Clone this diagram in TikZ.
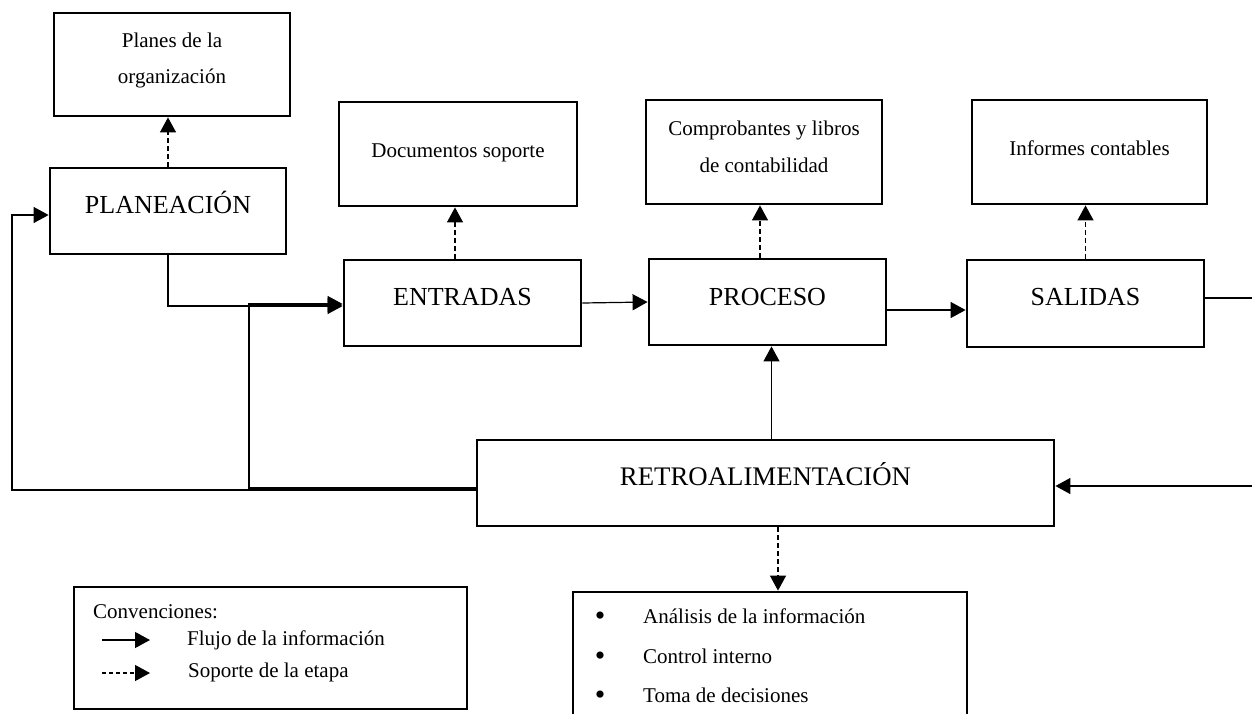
\documentclass[tikz,border=0pt]{standalone}
\usepackage{fontspec}
\setmainfont{Liberation Serif}
\usetikzlibrary{arrows.meta}
\begin{document}
\begin{tikzpicture}[x=1pt,y=-1pt,
  box/.style={draw, line width=2.8pt, inner sep=0pt},
  small/.style={inner sep=0pt, font=\fontsize{21}{25}\selectfont},
  big/.style={inner sep=0pt, font=\fontsize{26}{30}\selectfont},
  bulletmark/.style={inner sep=0pt, font=\fontsize{30}{30}\selectfont},
  flow/.style={line width=1.2pt, -{Triangle[length=15pt,width=16pt]}},
  sup/.style={line width=1.2pt, dash pattern=on 5pt off 3pt, -{Triangle[length=15pt,width=16pt]}},
]
\clip (0,0) rectangle (1252,713);
\useasboundingbox (0,0) rectangle (1252,713);
\fill[white] (0,0) rectangle (1252,713);

% boxes
\node[box, minimum width=236pt, minimum height=103pt] (planes) at (172,64.5) {};
\node[box, minimum width=236pt, minimum height=86pt] (plan) at (168,211) {};
\node[box, minimum width=238pt, minimum height=104pt] (docs) at (458,154) {};
\node[box, minimum width=236pt, minimum height=104pt] (comp) at (764,152) {};
\node[box, minimum width=235pt, minimum height=104pt] (inf) at (1089.5,152) {};
\node[box, minimum width=237pt, minimum height=86pt] (ent) at (462.5,303) {};
\node[box, minimum width=237pt, minimum height=86pt] (proc) at (767.5,302) {};
\node[box, minimum width=237pt, minimum height=87pt] (sal) at (1085.5,303.5) {};
\node[box, minimum width=577pt, minimum height=86pt] (retro) at (765.5,483) {};
\node[box, minimum width=394pt, minimum height=148pt] (bul) at (770,666) {};
\node[box, minimum width=393pt, minimum height=122pt] (conv) at (270.5,648) {};

% texts
\node[small, anchor=base] (planesT1) at (172,47) {Planes de la};
\node[small, anchor=base] (planesT2) at (172,83) {organización};
\node[big, anchor=base] (planT) at (168,213) {PLANEACIÓN};
\node[small, anchor=base] (docsT) at (458,157) {Documentos soporte};
\node[small, anchor=base] (compT1) at (764,135) {Comprobantes y libros};
\node[small, anchor=base] (compT2) at (764,172) {de contabilidad};
\node[small, anchor=base] (infT) at (1089.5,155) {Informes contables};
\node[big, anchor=base] (entT) at (462.5,305) {ENTRADAS};
\node[big, anchor=base] (procT) at (767.5,305) {PROCESO};
\node[big, anchor=base] (salT) at (1085.5,305) {SALIDAS};
\node[big, anchor=base, font=\fontsize{26.8}{30}\selectfont] (retroT) at (765.5,485) {RETROALIMENTACIÓN};

\node[bulletmark, anchor=base] (bu1) at (600,625) {\textbullet};
\node[small, anchor=base west] (bt1) at (643,623) {Análisis de la información};
\node[bulletmark, anchor=base] (bu2) at (600,665) {\textbullet};
\node[small, anchor=base west] (bt2) at (643,663) {Control interno};
\node[bulletmark, anchor=base] (bu3) at (600,704) {\textbullet};
\node[small, anchor=base west] (bt3) at (643,702) {Toma de decisiones};

\node[small, anchor=base west] (convT) at (93,618) {Convenciones:};
\node[small, anchor=base west] (flT) at (187,645) {Flujo de la información};
\node[small, anchor=base west] (soT) at (188,677) {Soporte de la etapa};
\coordinate (l1a) at (102,640);
\coordinate (l1b) at (150,640);
\coordinate (l2a) at (102,673);
\coordinate (l2b) at (150,673);
\draw[flow] (l1a) -- (l1b);
\draw[sup, dash pattern=on 4pt off 3pt] (l2a) -- (l2b);

% support (dashed) connectors
\draw[sup] (plan.north) -- (plan.north |- planes.south);
\coordinate (e1) at ([xshift=-7.5pt]ent.north);
\draw[sup] (e1) -- (e1 |- docs.south);
\coordinate (p1) at ([xshift=-7.5pt]proc.north);
\draw[sup] (p1) -- (p1 |- comp.south);
\draw[sup] (sal.north) -- (sal.north |- inf.south);
\coordinate (r1) at ([xshift=12.5pt]retro.south);
\draw[sup] (r1) -- (r1 |- bul.north);

% flow connectors
\coordinate (entIn1) at ([yshift=-3pt]ent.west);
\draw[flow] (plan.south) |- (entIn1);
\coordinate (entIn2) at ([yshift=-1pt]ent.west);
\coordinate (j1) at (249,488);
\draw[flow] (j1 -| retro.west) -- (j1) |- (entIn2);
\coordinate (j2) at (12,490);
\coordinate (planIn) at ([yshift=-4pt]plan.west);
\draw[flow] (j2 -| retro.west) -- (j2) |- (planIn);
\draw[flow] (ent.east) -- (proc.west);
\coordinate (pOut) at ([yshift=-8pt]proc.east);
\draw[flow] (pOut) -- (pOut -| sal.west);
\coordinate (sOut) at ([yshift=5.5pt]sal.east);
\coordinate (far) at (1265,298);
\coordinate (rIn) at ([yshift=-3pt]retro.east);
\draw[flow] (sOut) -- (far) |- (rIn);
\coordinate (rUp) at ([xshift=6pt]retro.north);
\draw[flow] (rUp) -- (rUp |- proc.south);
\end{tikzpicture}
\end{document}
